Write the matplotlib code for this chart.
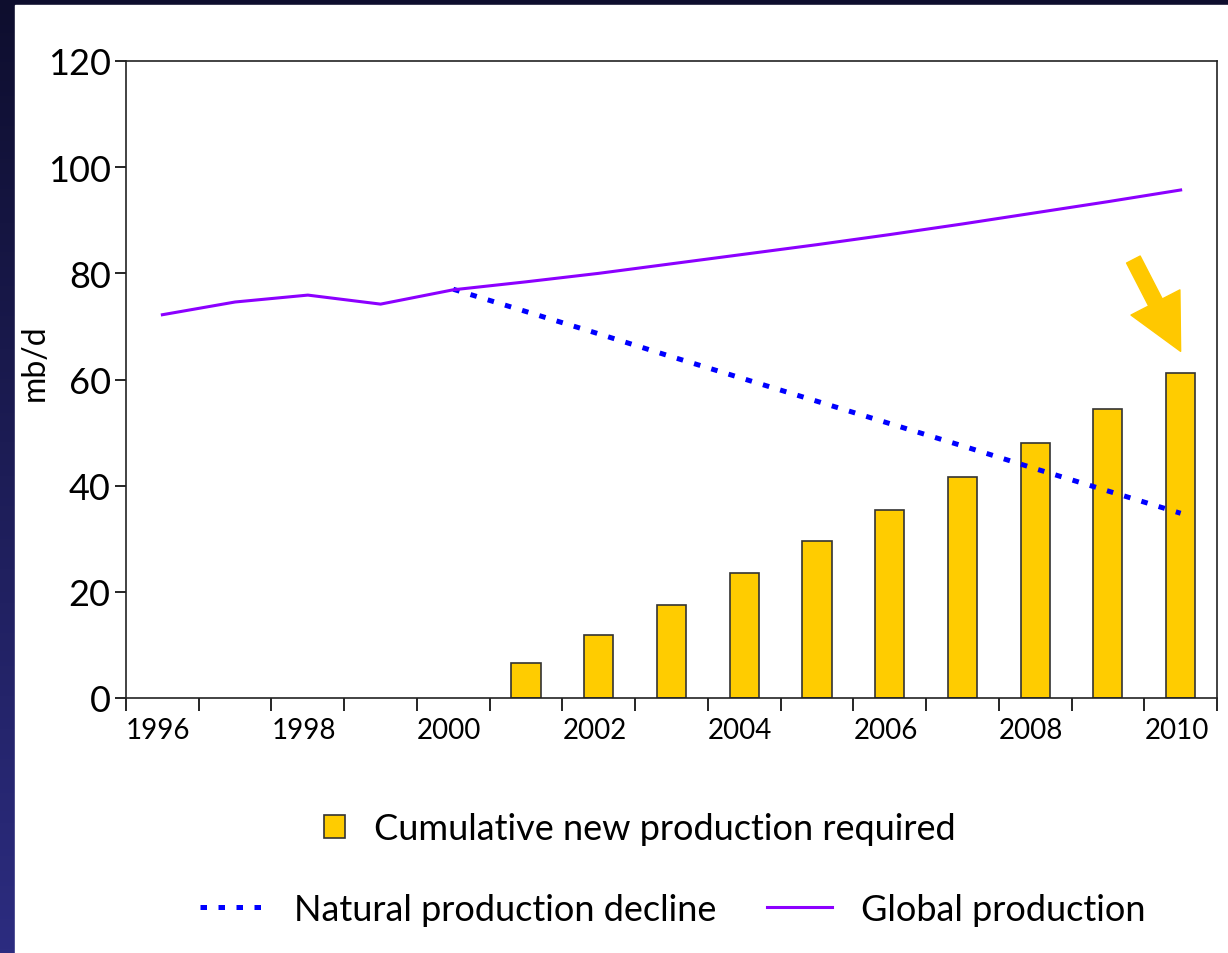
import numpy as np
import matplotlib
matplotlib.use('Agg')
import matplotlib.pyplot as plt
from matplotlib.patches import Rectangle

plt.rcParams['font.family'] = ['Lato', 'DejaVu Sans']

years = [1996, 1997, 1998, 1999, 2000, 2001, 2002, 2003, 2004, 2005,
         2006, 2007, 2008, 2009, 2010]
global_prod = [72.2, 74.6, 75.9, 74.2, 76.9, 78.4, 80.0, 81.8, 83.6, 85.4,
               87.3, 89.3, 91.4, 93.5, 95.7]
decline_years = [2000, 2001, 2002, 2003, 2004, 2005, 2006, 2007, 2008, 2009, 2010]
decline = [77.0, 72.8, 68.6, 64.3, 60.1, 55.9, 51.7, 47.5, 43.2, 39.0, 34.8]
bar_years = [2001, 2002, 2003, 2004, 2005, 2006, 2007, 2008, 2009, 2010]
new_required = [6.6, 11.8, 17.5, 23.5, 29.5, 35.4, 41.6, 48.1, 54.5, 61.3]
label_years = [1996, 1998, 2000, 2002, 2004, 2006, 2008, 2010]

fig = plt.figure(figsize=(12.28, 9.54), dpi=100)

# slide background: dark navy gradient, white panel on top
bg = fig.add_axes([0, 0, 1, 1], zorder=-10)
grad = np.linspace(0, 1, 256)[:, None]
top = np.array([14, 14, 46]) / 255.0
bot = np.array([44, 44, 128]) / 255.0
img = top[None, None, :] * (1 - grad[:, :, None]) + bot[None, None, :] * grad[:, :, None]
bg.imshow(np.repeat(img, 2, axis=1), aspect='auto', extent=[0, 1, 0, 1])
bg.add_patch(Rectangle((15 / 1228, 0), 1, 1 - 6 / 954, color='white'))
bg.set_xlim(0, 1)
bg.set_ylim(0, 1)
bg.axis('off')

ax = fig.add_axes([126 / 1228, 1 - 699 / 954, (1217 - 126) / 1228, (699 - 62) / 954])

xc = np.array(years) + 0.5
ax.bar(np.array(bar_years) + 0.5, new_required, width=0.4, color='#FFCC00',
       edgecolor='#333333', linewidth=1.2, label='Cumulative new production required', zorder=2)
ax.plot(np.array(decline_years) + 0.5, decline, color='#0000FF', lw=3.6,
        linestyle=(0, (1.3, 2.3)), label='Natural production decline', zorder=3)
ax.plot(xc, global_prod, color='#8C00FF', lw=2.2, label='Global production', zorder=3)

ax.set_xlim(1996, 2011)
ax.set_ylim(0, 120)
ax.set_yticks(range(0, 121, 20))
ax.set_xticks(label_years)
ax.set_xticklabels([str(y) for y in label_years], ha='left')
ax.set_xticks([y for y in range(1997, 2012, 2)], minor=True)
ax.tick_params(axis='y', labelsize=26, length=8, width=1.2, pad=3, direction='out')
ax.tick_params(axis='x', which='both', labelsize=20, length=9.5, width=1.2, pad=4, direction='out')
for s in ax.spines.values():
    s.set_linewidth(1.2)
    s.set_color('#222222')

fig.text(35 / 1228, 1 - 363 / 954, 'mb/d', rotation=90, fontsize=23,
         ha='center', va='center')

# highlight arrow pointing at the 2010 bar
ax.annotate('', xy=(2010.5, 65.3), xytext=(2009.85, 82.6),
            arrowprops=dict(arrowstyle='simple,head_length=1.8,head_width=1.8,tail_width=0.5',
                            color='#FFC800', mutation_scale=22, shrinkA=0, shrinkB=0))

h, l = ax.get_legend_handles_labels()
fig.legend([h[2]], [l[2]], loc='center', bbox_to_anchor=(0.521, 0.130),
           frameon=False, fontsize=26, handlelength=0.6, handleheight=0.6,
           handletextpad=0.8)
fig.legend([h[0], h[1]], [l[0], l[1]], loc='center', bbox_to_anchor=(0.548, 0.046),
           ncol=2, frameon=False, fontsize=26, handlelength=1.8,
           handletextpad=0.8, columnspacing=1.4)

fig.savefig('out.png', dpi=100)
